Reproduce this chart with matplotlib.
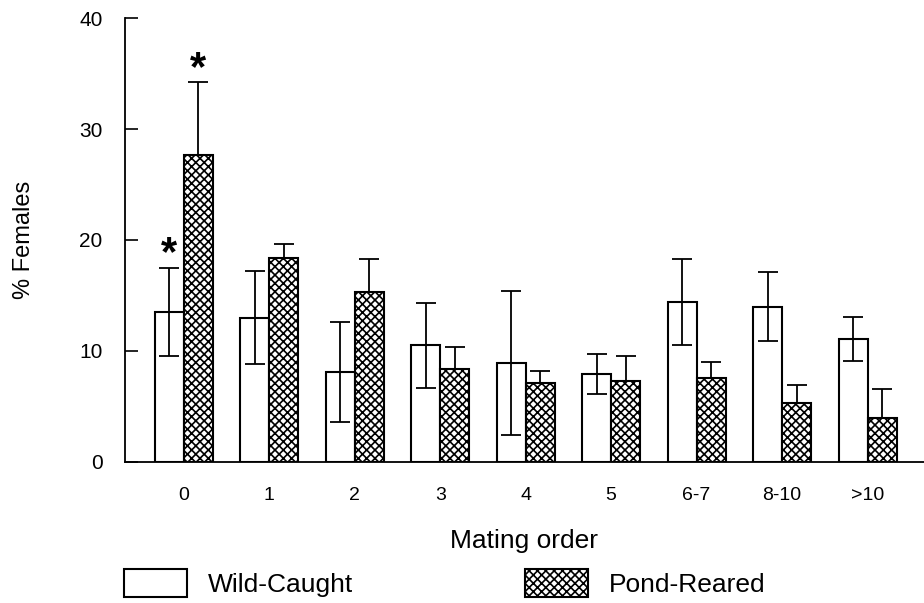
import matplotlib
matplotlib.use("Agg")
import matplotlib.pyplot as plt
import numpy as np

plt.rcParams['font.family'] = ['Liberation Sans', 'DejaVu Sans']
plt.rcParams['hatch.linewidth'] = 1.2

# data
groups = ["0", "1", "2", "3", "4", "5", "6-7", "8-10", ">10"]
wild = [13.5, 13.0, 8.1, 10.5, 8.9, 7.9, 14.4, 14.0, 11.1]
wild_err = [4.0, 4.2, 4.5, 3.8, 6.5, 1.8, 3.9, 3.1, 2.0]
pond = [27.7, 18.4, 15.3, 8.4, 7.1, 7.3, 7.6, 5.3, 4.0]
pond_err = [6.5, 1.2, 3.0, 2.0, 1.1, 2.2, 1.4, 1.6, 2.6]
signif_wild = [True] + [False] * 8
signif_pond = [True] + [False] * 8

fig = plt.figure(figsize=(9.24, 6.03), dpi=100)
ax = fig.add_axes([0.135, 0.234, 0.865, 0.736])

x = np.arange(len(groups))
w = 0.34

ax.bar(x - w / 2, wild, w, color='white', edgecolor='black', linewidth=1.5,
       label='Wild-Caught', zorder=2)
ax.bar(x + w / 2, pond, w, color='white', edgecolor='black', linewidth=1.5,
       hatch='xxxx', label='Pond-Reared', zorder=2)
ax.errorbar(x - w / 2, wild, yerr=wild_err, fmt='none', ecolor='black',
            elinewidth=1.3, capsize=7, capthick=1.3, zorder=3)
ax.errorbar(x + w / 2, pond, yerr=[np.zeros(len(pond)), pond_err], fmt='none',
            ecolor='black', elinewidth=1.3, capsize=7, capthick=1.3, zorder=3)

for i in range(len(groups)):
    if signif_wild[i]:
        ax.text(x[i] - w / 2, wild[i] + wild_err[i] - 0.6, '*', ha='center',
                va='bottom', fontsize=30, fontweight='bold')
    if signif_pond[i]:
        ax.text(x[i] + w / 2, pond[i] + pond_err[i] - 0.6, '*', ha='center',
                va='bottom', fontsize=30, fontweight='bold')

ax.set_xlim(-0.69, 8.66)
ax.set_ylim(0, 40)
ax.set_yticks([0, 10, 20, 30, 40])
ax.set_xticks(x)
ax.set_xticklabels(groups)
ax.tick_params(axis='y', direction='in', length=9, width=1.2, labelsize=15, pad=16)
ax.tick_params(axis='x', length=0, labelsize=14, pad=18)
ax.spines['top'].set_visible(False)
ax.spines['right'].set_visible(False)
ax.spines['left'].set_linewidth(1.3)
ax.spines['bottom'].set_linewidth(1.3)

ax.set_ylabel('% Females', fontsize=17, labelpad=32)
ax.set_xlabel('Mating order', fontsize=19, labelpad=18)

fig.legend(loc='lower left', bbox_to_anchor=(0.108, -0.03), ncol=2,
           frameon=False, fontsize=19, handlelength=2.4, handleheight=1.25,
           columnspacing=6.5, handletextpad=0.8)

fig.savefig('out.png', dpi=100)
